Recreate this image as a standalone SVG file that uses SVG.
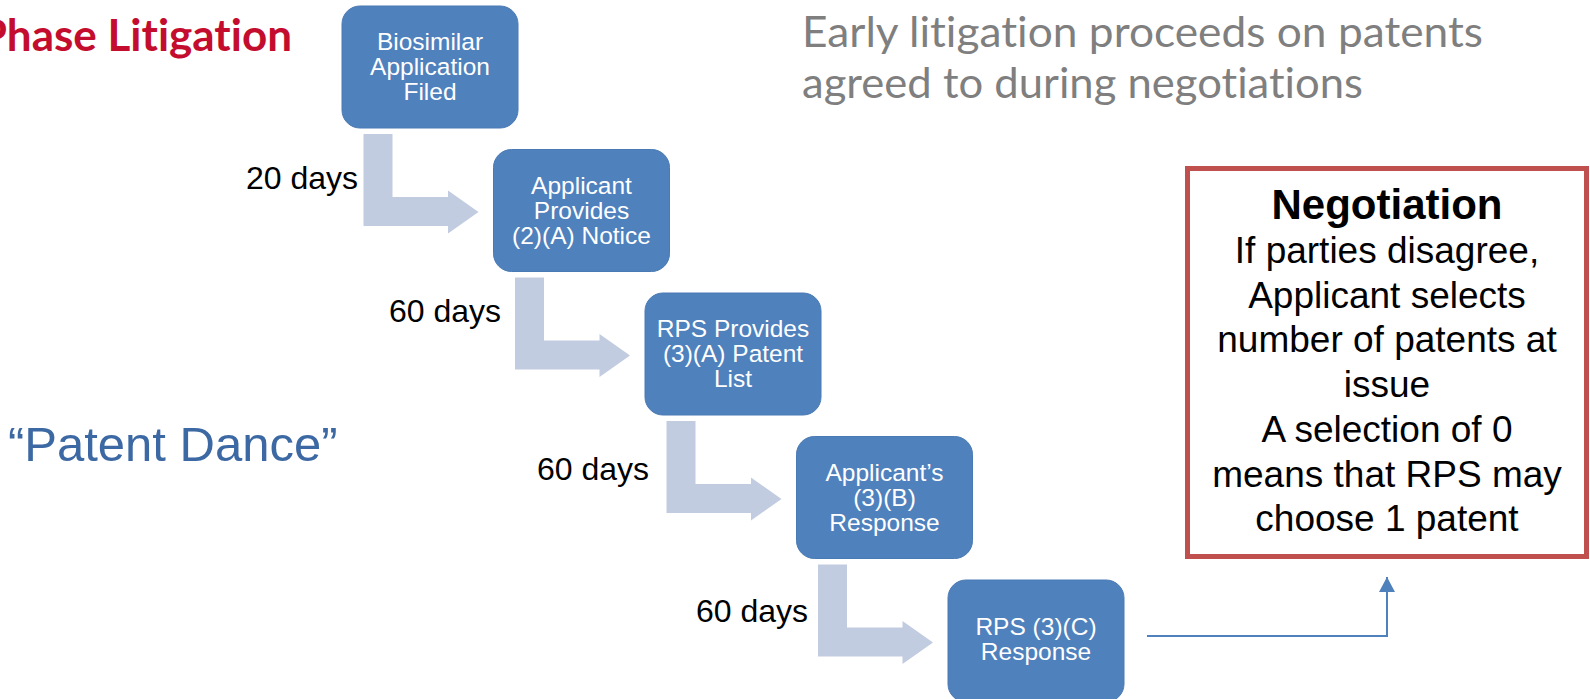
<svg xmlns="http://www.w3.org/2000/svg" width="1590" height="699" viewBox="0 0 1590 699">
<defs>
<style>
.box{fill:#4F81BD;stroke:#4A7AB4;stroke-width:1}
.bt{font-family:"Liberation Sans",Arial,sans-serif;font-size:24.5px;fill:#FFFFFF;text-anchor:middle}
.arr{fill:#C2CCE1}
.days{font-family:"Liberation Sans",Arial,sans-serif;font-size:32px;fill:#000000;text-anchor:end}
.neg{font-family:"Liberation Sans",Arial,sans-serif;font-size:37px;fill:#000000;text-anchor:middle}
.negh{font-family:"Liberation Sans",Arial,sans-serif;font-size:42px;font-weight:bold;fill:#000000;text-anchor:middle}
.conn{fill:none;stroke:#4F81BD;stroke-width:2}
.cal{font-variant-ligatures:none;font-feature-settings:"liga" 0}
</style>
<marker id="ah" viewBox="0 0 15 16" refX="15" refY="8" markerWidth="15" markerHeight="16" markerUnits="userSpaceOnUse" orient="auto">
<path d="M0,0 L15,8 L0,16 Z" fill="#4F81BD"/>
</marker>
</defs>
<rect x="0" y="0" width="1590" height="699" fill="#FFFFFF"/>

<text id="title" class="cal" x="292" y="51" font-family="Lato,'Liberation Sans',sans-serif" font-weight="bold" font-size="44" fill="#C40D2E" text-anchor="end">Phase Litigation</text>

<g id="note" class="cal" font-family="Lato,'Open Sans',sans-serif" font-size="43" fill="#7F7F7F">
<text x="802" y="47" textLength="681" lengthAdjust="spacingAndGlyphs">Early litigation proceeds on patents</text>
<text x="802" y="98" textLength="561" lengthAdjust="spacingAndGlyphs">agreed to during negotiations</text>
</g>

<text id="patent-dance" x="8" y="461" font-family="'Liberation Sans',Arial,sans-serif" font-size="49" fill="#3C69A3">“Patent Dance”</text>

<g id="connectors">
<path class="arr" d="M363.5,134 H392.5 V197 H448 V190.5 L478.5,212 L448,233.5 V226 H363.5 Z"/>
<path class="arr" d="M515,277.5 H544 V340.5 H599.5 V334 L630,355.5 L599.5,377 V369.5 H515 Z"/>
<path class="arr" d="M666.5,421 H695.5 V484 H751 V477.5 L781.5,499 L751,520.5 V513 H666.5 Z"/>
<path class="arr" d="M818,564.5 H847 V627.5 H902.5 V621 L933,642.5 L902.5,664 V656.5 H818 Z"/>
<path class="conn" d="M1147,636 H1387 V577" marker-end="url(#ah)"/>
<text class="days" x="358" y="189">20 days</text>
<text class="days" x="501" y="322">60 days</text>
<text class="days" x="649" y="480">60 days</text>
<text class="days" x="808" y="622">60 days</text>
</g>

<g id="n1">
<rect class="box" x="342" y="6" width="176" height="122" rx="18"/>
<text class="bt" x="430" y="50">Biosimilar</text>
<text class="bt" x="430" y="75">Application</text>
<text class="bt" x="430" y="100">Filed</text>
</g>
<g id="n2">
<rect class="box" x="493.5" y="149.5" width="176" height="122" rx="18"/>
<text class="bt" x="581.5" y="193.5">Applicant</text>
<text class="bt" x="581.5" y="218.5">Provides</text>
<text class="bt" x="581.5" y="243.5">(2)(A) Notice</text>
</g>
<g id="n3">
<rect class="box" x="645" y="293" width="176" height="122" rx="18"/>
<text class="bt" x="733" y="337">RPS Provides</text>
<text class="bt" x="733" y="362">(3)(A) Patent</text>
<text class="bt" x="733" y="387">List</text>
</g>
<g id="n4">
<rect class="box" x="796.5" y="436.5" width="176" height="122" rx="18"/>
<text class="bt" x="884.5" y="480.5">Applicant’s</text>
<text class="bt" x="884.5" y="505.5">(3)(B)</text>
<text class="bt" x="884.5" y="530.5">Response</text>
</g>
<g id="n5">
<rect class="box" x="948" y="580" width="176" height="122" rx="18"/>
<text class="bt" x="1036" y="635">RPS (3)(C)</text>
<text class="bt" x="1036" y="660">Response</text>
</g>

<g id="negotiation">
<rect x="1187.5" y="168.5" width="399" height="388" fill="#FFFFFF" stroke="#C0504D" stroke-width="5"/>
<text class="negh" x="1387" y="219">Negotiation</text>
<text class="neg" x="1387" y="263">If parties disagree,</text>
<text class="neg" x="1387" y="307.7">Applicant selects</text>
<text class="neg" x="1387" y="352.4">number of patents at</text>
<text class="neg" x="1387" y="397.1">issue</text>
<text class="neg" x="1387" y="441.8">A selection of 0</text>
<text class="neg" x="1387" y="486.5">means that RPS may</text>
<text class="neg" x="1387" y="531.2">choose 1 patent</text>
</g>
</svg>
